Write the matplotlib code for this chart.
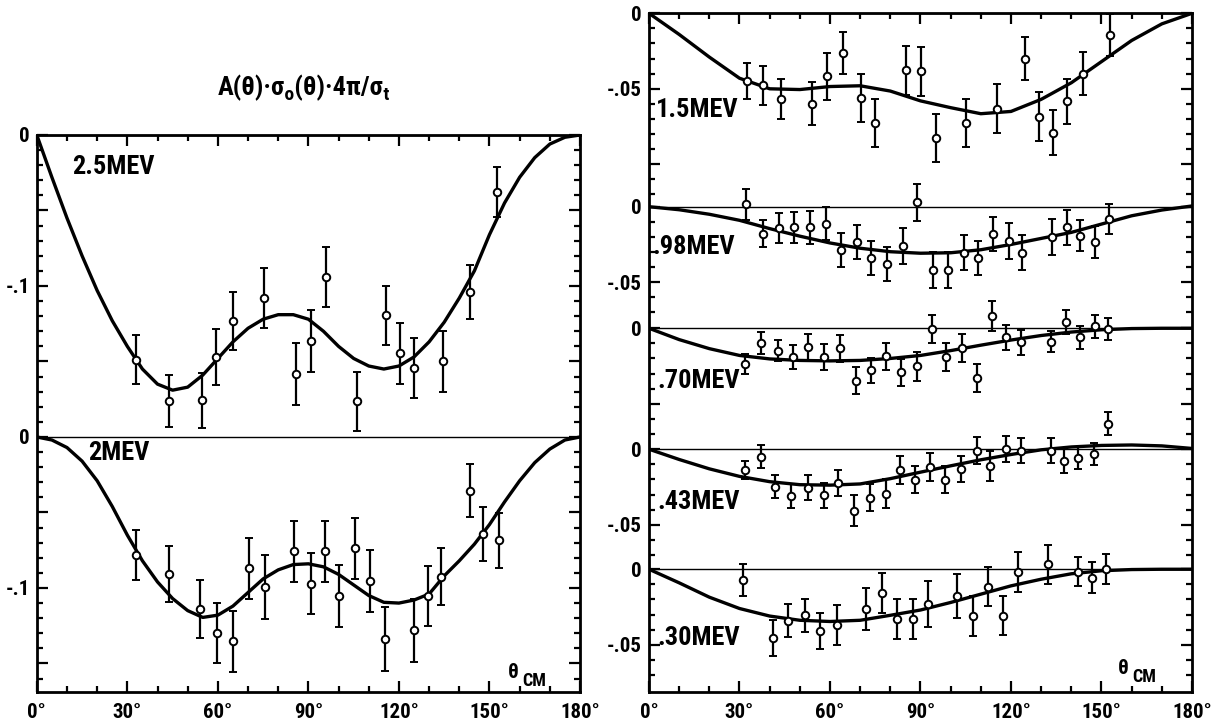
import numpy as np
import matplotlib
matplotlib.use("Agg")
import matplotlib.pyplot as plt

FONT = ['Roboto Condensed', 'Roboto', 'DejaVu Sans']
plt.rcParams['font.family'] = FONT
plt.rcParams['font.weight'] = 'bold'

# ---------------- data ----------------
# theoretical curves, left panel (5 degree grid)
curve_theta_left = list(range(0, 181, 5))
curve_25 = [0, -0.028, -0.055, -0.080, -0.103, -0.123, -0.140, -0.155, -0.165, -0.169,
            -0.167, -0.159, -0.148, -0.137, -0.128, -0.122, -0.119, -0.119, -0.122, -0.130,
            -0.140, -0.148, -0.153, -0.155, -0.153, -0.147, -0.137, -0.124, -0.108, -0.090,
            -0.066, -0.045, -0.028, -0.015, -0.006, -0.0015, 0]
curve_20 = [0, -0.002, -0.007, -0.016, -0.029, -0.046, -0.065, -0.082, -0.096, -0.107,
            -0.115, -0.1195, -0.118, -0.112, -0.103, -0.094, -0.088, -0.0845, -0.084, -0.086,
            -0.091, -0.098, -0.105, -0.1095, -0.110, -0.108, -0.104, -0.092, -0.082, -0.071,
            -0.058, -0.043, -0.029, -0.017, -0.008, -0.002, 0]

# theoretical curves, right panel (10 degree grid)
curve_theta_right = list(range(0, 181, 10))
curve_15 = [0, -0.014, -0.029, -0.043, -0.050, -0.0505, -0.0485, -0.048, -0.0515, -0.058,
            -0.0625, -0.0665, -0.065, -0.057, -0.046, -0.032, -0.018, -0.007, 0]
curve_098 = [0, -0.002, -0.005, -0.009, -0.0145, -0.0195, -0.024, -0.0275, -0.0298, -0.0308,
             -0.0305, -0.0285, -0.025, -0.021, -0.017, -0.0115, -0.006, -0.0022, 0.0005]
curve_070 = [0, -0.0075, -0.0135, -0.018, -0.0203, -0.0213, -0.0216, -0.0213, -0.0200, -0.0180,
             -0.0148, -0.0112, -0.0078, -0.0048, -0.0025, -0.001, -0.0002, 0.0, 0.0]
curve_043 = [0, -0.0068, -0.013, -0.018, -0.0215, -0.0235, -0.0238, -0.023, -0.0195, -0.0152,
             -0.011, -0.007, -0.0035, -0.0004, 0.0015, 0.0025, 0.0028, 0.0022, 0.0005]
curve_030 = [0, -0.009, -0.0185, -0.026, -0.031, -0.0338, -0.0346, -0.0338, -0.0305, -0.027,
             -0.022, -0.0165, -0.011, -0.0066, -0.003, -0.001, -0.0002, 0.0, 0.0]

# measured points: angle, value, error
th_25 = [32.8, 43.8, 54.6, 59.5, 65.0, 75.3, 85.8, 90.9, 95.9, 106.1, 115.8, 120.5, 125.1, 134.5, 143.7, 152.6]
v_25 = [-0.1488, -0.1763, -0.1758, -0.1473, -0.1233, -0.1077, -0.1585, -0.1365, -0.0941, -0.1765,
        -0.1193, -0.1446, -0.1543, -0.1499, -0.1040, -0.0378]
e_25 = [0.0162, 0.0173, 0.018, 0.0186, 0.019, 0.0198, 0.0205, 0.0205, 0.0201, 0.0198,
        0.0196, 0.0201, 0.0198, 0.020, 0.0177, 0.0168]

th_20 = [32.8, 43.8, 54.2, 59.7, 65.0, 70.2, 75.5, 85.3, 90.8, 95.4, 100.3, 105.3, 110.3, 115.3,
         125.0, 129.7, 134.1, 143.4, 147.9, 153.0]
v_20 = [-0.0781, -0.0909, -0.1142, -0.1299, -0.1354, -0.0869, -0.0991, -0.0757, -0.0971, -0.0757,
        -0.1053, -0.0737, -0.0951, -0.1336, -0.1281, -0.1051, -0.0925, -0.0356, -0.0644, -0.0684]
e_20 = [0.0166, 0.0186, 0.0192, 0.0201, 0.0204, 0.0201, 0.0212, 0.0201, 0.0204, 0.0201,
        0.0205, 0.0202, 0.0205, 0.0212, 0.021, 0.0199, 0.0187, 0.0175, 0.0177, 0.0181]

th_15 = [32.6, 37.9, 43.6, 54.0, 59.1, 64.3, 70.2, 75.0, 85.3, 90.2, 95.3, 105.1, 115.2, 124.8,
         129.4, 133.8, 138.5, 143.8, 152.7]
v_15 = [-0.0449, -0.0478, -0.0569, -0.060, -0.0418, -0.0262, -0.056, -0.0727, -0.0378, -0.0384,
        -0.0827, -0.0727, -0.0633, -0.030, -0.0684, -0.0791, -0.0584, -0.040, -0.0144]
e_15 = [0.0117, 0.0131, 0.0131, 0.0143, 0.0153, 0.0137, 0.016, 0.0161, 0.0161, 0.0163,
        0.016, 0.0161, 0.0162, 0.0141, 0.0161, 0.015, 0.0151, 0.0144, 0.014]

th_098 = [32.1, 37.9, 43.0, 48.0, 53.5, 58.7, 63.6, 69.1, 73.7, 79.0, 84.2, 89.0, 94.1, 99.2,
          104.4, 109.2, 114.1, 119.2, 123.8, 133.7, 138.4, 143.0, 147.8, 152.4]
v_098 = [0.0017, -0.018, -0.0141, -0.0137, -0.0137, -0.0113, -0.0289, -0.0235, -0.0341, -0.038,
         -0.0261, 0.0028, -0.042, -0.042, -0.0304, -0.0337, -0.018, -0.0228, -0.0304, -0.020,
         -0.0137, -0.0191, -0.0233, -0.008]
e_098 = [0.0103, 0.009, 0.0098, 0.0101, 0.0109, 0.0109, 0.0112, 0.0113, 0.0111, 0.0115,
         0.0118, 0.0125, 0.0117, 0.0117, 0.0116, 0.0112, 0.0112, 0.0117, 0.0116, 0.0118,
         0.0116, 0.0105, 0.0105, 0.0098]

th_070 = [31.7, 37.0, 42.7, 47.6, 52.6, 57.9, 63.3, 68.7, 73.7, 78.5, 83.5, 88.8, 93.8, 98.6,
          103.9, 108.6, 113.7, 118.5, 123.4, 133.1, 138.1, 143.0, 147.7, 152.1]
v_070 = [-0.0237, -0.0099, -0.0149, -0.0191, -0.0125, -0.0191, -0.0134, -0.0346, -0.0279, -0.0186,
         -0.0292, -0.0252, -0.0004, -0.0191, -0.0132, -0.0329, 0.0081, -0.0059, -0.0094, -0.009,
         0.0044, -0.0059, 0.0013, -0.0004]
e_070 = [0.0066, 0.0071, 0.0071, 0.0079, 0.0086, 0.0088, 0.0091, 0.0088, 0.0084, 0.009,
         0.0088, 0.0096, 0.0093, 0.0091, 0.0091, 0.0094, 0.0099, 0.0082, 0.0082, 0.0069,
         0.008, 0.0077, 0.0077, 0.0074]

th_043 = [31.7, 37.0, 41.9, 47.2, 52.7, 57.9, 62.7, 68.0, 73.3, 78.5, 83.2, 88.3, 93.1, 98.2,
          103.5, 108.6, 113.2, 118.2, 123.2, 133.1, 137.7, 142.3, 147.4, 152.2]
v_043 = [-0.0138, -0.0049, -0.025, -0.031, -0.0254, -0.0306, -0.0221, -0.0406, -0.0321, -0.0295,
         -0.0138, -0.0201, -0.0116, -0.0201, -0.0134, -0.0011, -0.0112, 0.0, -0.0009, -0.0009,
         -0.0078, -0.006, -0.0033, 0.017]
e_043 = [0.0061, 0.0076, 0.0076, 0.0081, 0.0084, 0.0081, 0.0086, 0.010, 0.0089, 0.0095,
         0.0093, 0.009, 0.0093, 0.0089, 0.0086, 0.009, 0.0097, 0.0087, 0.0081, 0.0081,
         0.0078, 0.0074, 0.0071, 0.0078]

th_030 = [31.0, 41.2, 46.0, 51.6, 56.7, 62.3, 72.0, 77.3, 82.2, 87.5, 92.5, 102.2, 107.5, 112.4,
          117.4, 122.4, 132.1, 142.1, 146.7, 151.6]
v_030 = [-0.007, -0.0456, -0.0341, -0.0306, -0.0407, -0.0368, -0.0264, -0.0159, -0.033, -0.033,
         -0.0231, -0.0176, -0.0308, -0.0115, -0.0308, -0.002, 0.0033, -0.0015, -0.0055, 0.0]
e_030 = [0.0105, 0.0118, 0.0108, 0.0112, 0.0119, 0.0134, 0.0141, 0.0132, 0.0134, 0.0133,
         0.015, 0.0145, 0.0131, 0.0131, 0.013, 0.0131, 0.0129, 0.0096, 0.0101, 0.0101]

labels_left = ['2.5MEV', '2MEV']
labels_right = ['1.5MEV', '.98MEV', '.70MEV', '.43MEV', '.30MEV']
x_ticks = [0, 30, 60, 90, 120, 150, 180]
x_tick_labels = ['0°', '30°', '60°', '90°', '120°', '150°', '180°']

# ---------------- layout ----------------
W, H = 1230, 727
fig = plt.figure(figsize=(W / 100, H / 100), dpi=100)


def rect(x0, y0, x1, y1):
    return [x0 / W, 1 - y1 / H, (x1 - x0) / W, (y1 - y0) / H]


def fx(x):
    return x / W


def fy(y):
    return 1 - y / H


axL = fig.add_axes(rect(36.8, 135, 580, 691.7))
axR = fig.add_axes(rect(649, 13.3, 1192, 691.7))

left_offsets = [0.0, -0.2]
left_bottom = -0.3687
right_offsets = [0.0, -0.1281, -0.2086, -0.2887, -0.3682]
right_bottom = -0.4493

BLACK = 'black'


def draw(ax, off, th, v, e, cth, cv):
    ax.plot(cth, np.asarray(cv) + off, color=BLACK, lw=2.4, zorder=2, solid_capstyle='round')
    ax.errorbar(th, np.asarray(v) + off, yerr=e, fmt='o', ms=5.4, mfc='white', mec=BLACK,
                mew=1.4, ecolor=BLACK, elinewidth=1.6, capsize=3.2, capthick=2.0, zorder=3)
    ax.axhline(off, color=BLACK, lw=1.0, zorder=1)


draw(axL, left_offsets[0], th_25, v_25, e_25, curve_theta_left, curve_25)
draw(axL, left_offsets[1], th_20, v_20, e_20, curve_theta_left, curve_20)
right_series = [(th_15, v_15, e_15, curve_15), (th_098, v_098, e_098, curve_098),
                (th_070, v_070, e_070, curve_070), (th_043, v_043, e_043, curve_043),
                (th_030, v_030, e_030, curve_030)]
for off, (th, v, e, cv) in zip(right_offsets, right_series):
    draw(axR, off, th, v, e, curve_theta_right, cv)


def style(ax, bottom, offsets, labelled):
    ax.set_xlim(0, 180)
    ax.set_ylim(bottom, 0)
    for s in ax.spines.values():
        s.set_linewidth(2.0)
    ax.set_xticks(x_ticks)
    ax.set_xticklabels(x_tick_labels)
    ax.set_xticks(range(0, 181, 10), minor=True)
    majors, minors, labs = [], [], []
    bounds = offsets[1:] + [bottom]
    for z, b in zip(offsets, bounds):
        k = 0
        while z - k * 0.01 > b + 0.004:
            y = z - k * 0.01
            if k % 5 == 0:
                majors.append(y)
                labs.append(labelled.get((z, k // 5), ''))
            else:
                minors.append(y)
            k += 1
    ax.set_yticks(majors)
    ax.set_yticklabels(labs)
    ax.set_yticks(minors, minor=True)
    ax.tick_params(which='both', direction='in', top=True, right=True, width=1.6)
    ax.tick_params(which='major', length=8)
    ax.tick_params(which='minor', length=4)
    ax.tick_params(axis='x', which='major', labelsize=15, pad=8)
    ax.tick_params(axis='y', which='major', labelsize=15, pad=5)


labL = {(0.0, 0): '0', (0.0, 2): '-.1', (-0.2, 0): '0', (-0.2, 2): '-.1'}
style(axL, left_bottom, left_offsets, labL)
labR = {}
for i, z in enumerate(right_offsets):
    labR[(z, 0)] = '0'
    if i != 2:
        labR[(z, 1)] = '-.05'
style(axR, right_bottom, right_offsets, labR)

# texts
fig.text(fx(304), fy(88), 'A(θ)·σₒ(θ)·4π/σₜ', ha='center', va='center', fontsize=19,
         family=FONT)
left_label_pos = [(72, 167), (88, 453)]
for t, (x, y) in zip(labels_left, left_label_pos):
    fig.text(fx(x), fy(y), t, ha='left', va='center', fontsize=19)
right_label_pos = [(656, 110), (652, 247), (657, 381), (657, 502), (657, 638)]
for t, (x, y) in zip(labels_right, right_label_pos):
    fig.text(fx(x), fy(y), t, ha='left', va='center', fontsize=19)

for (x, y) in [(513, 673), (1123, 669)]:
    fig.text(fx(x), fy(y), 'θ', ha='center', va='center', fontsize=15)
    fig.text(fx(x + 9), fy(y + 8), 'CM', ha='left', va='center', fontsize=13)

fig.savefig('out.png', dpi=100)
